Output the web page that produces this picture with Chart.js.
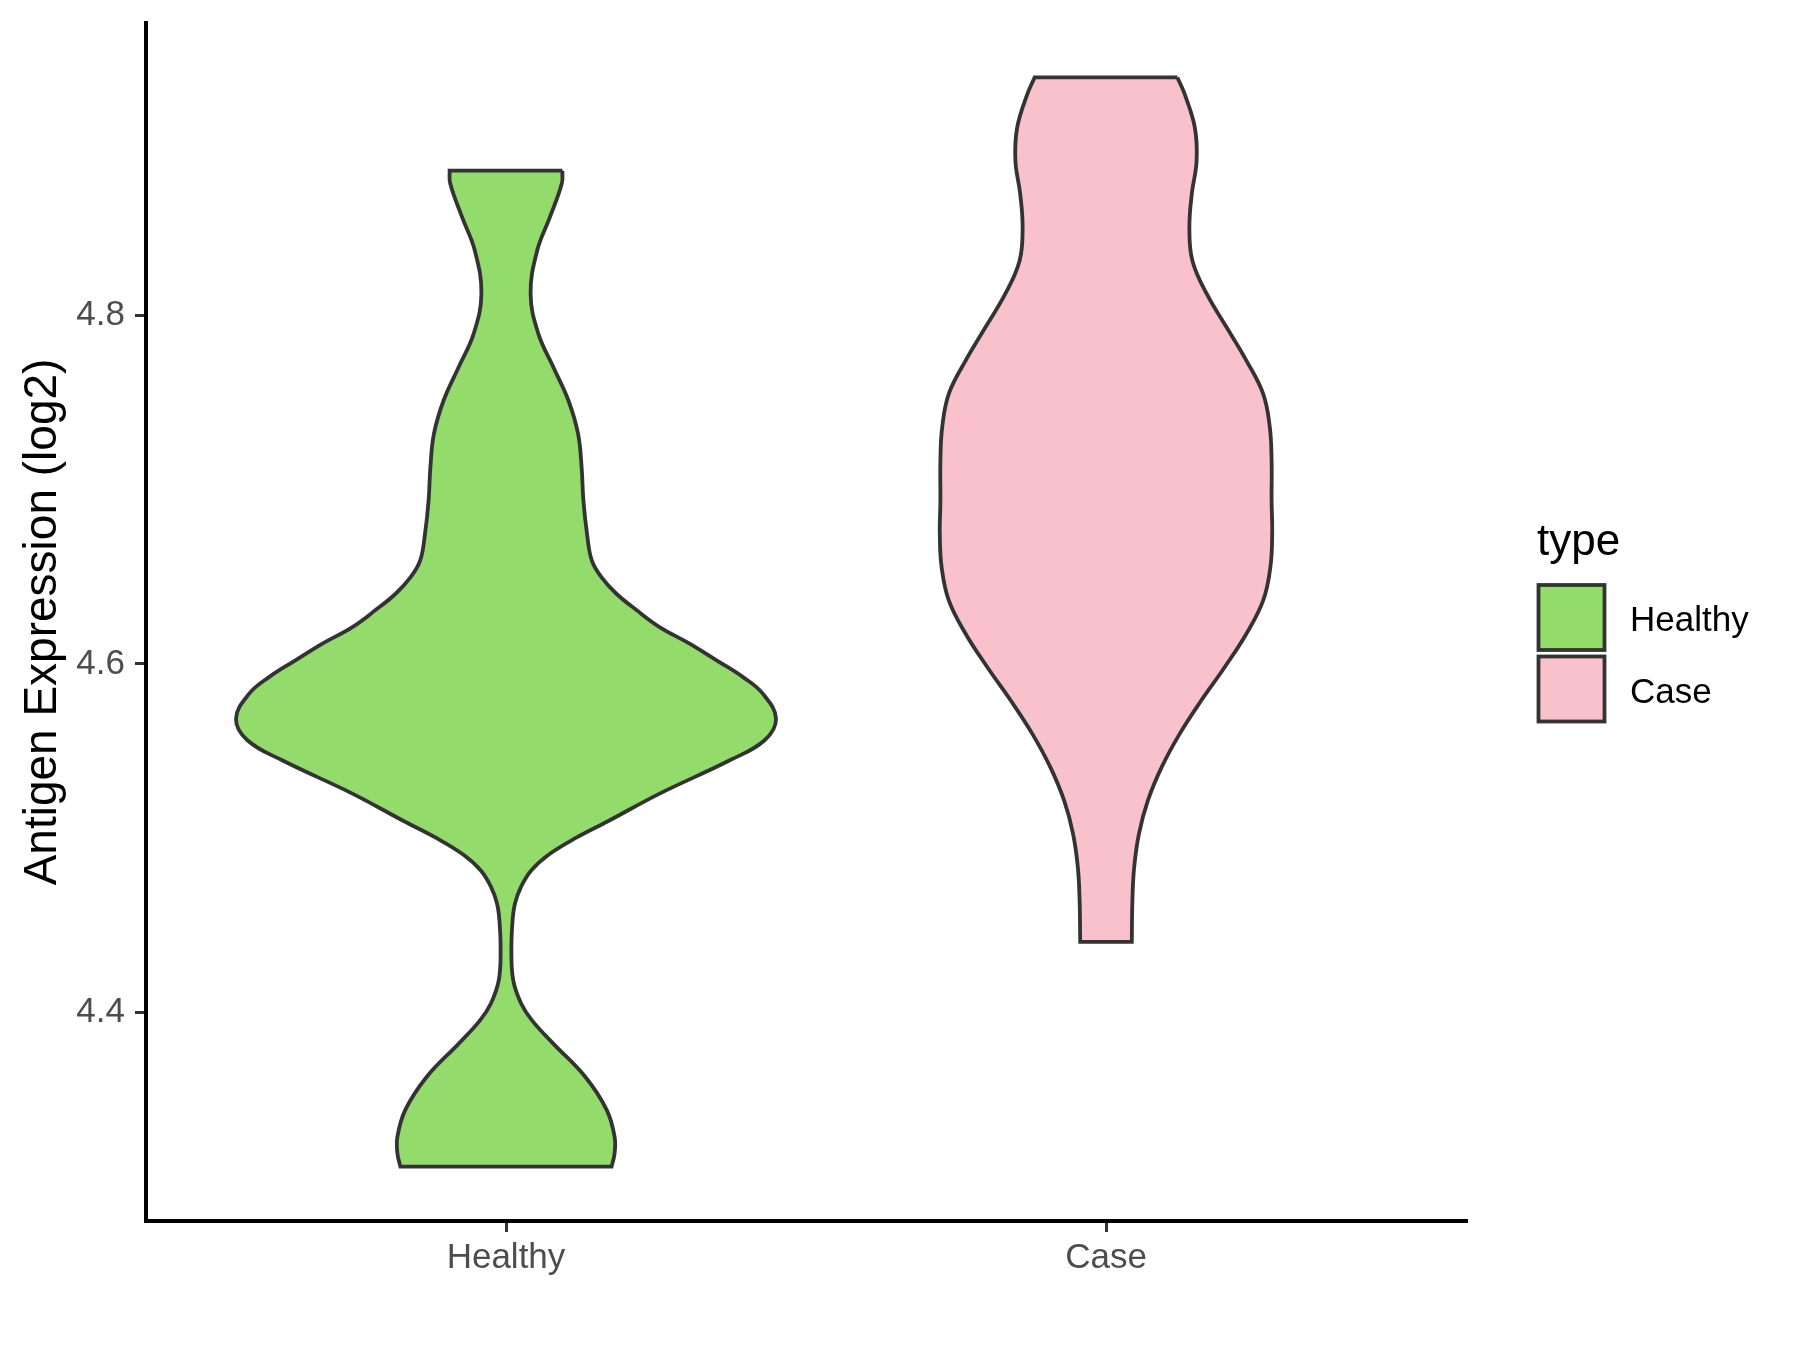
<!DOCTYPE html>
<html>
<head>
<meta charset="utf-8">
<script src="https://cdn.jsdelivr.net/npm/chart.js@4/dist/chart.umd.min.js"></script>
<style>
  body { margin: 0; background: #fff; }
  #violin { display: block; }
</style>
</head>
<body>
<canvas id="violin" width="1800" height="1350"></canvas>
<script>
'use strict';

const categories = ['Healthy', 'Case'];
const fills = ['#93DB6B', '#F8C1CC'];
const yTicks = [4.4, 4.6, 4.8];

// violin outlines: expression value and half width (in category units)
const healthyY = [4.8828, 4.8754, 4.8560, 4.8370, 4.8121, 4.7892, 4.7701, 4.7510, 4.7321, 4.7128, 4.6937, 4.6746,
  4.6593, 4.6497, 4.6402, 4.6307, 4.6211, 4.6116, 4.6020, 4.5924, 4.5829, 4.5686, 4.5562, 4.5447, 4.5256,
  4.5103, 4.5003, 4.4908, 4.4815, 4.4721, 4.4626, 4.4530, 4.4358, 4.4186, 4.4054, 4.3957, 4.3825, 4.3632,
  4.3441, 4.3288, 4.3193, 4.3117];
const healthyW = [0.094, 0.093, 0.073, 0.052, 0.041, 0.054, 0.079, 0.104, 0.120, 0.126, 0.129, 0.135,
  0.143, 0.159, 0.184, 0.218, 0.256, 0.306, 0.351, 0.395, 0.428, 0.450, 0.431, 0.373, 0.256,
  0.173, 0.117, 0.072, 0.042, 0.025, 0.015, 0.011, 0.009, 0.012, 0.025, 0.043, 0.078, 0.132,
  0.168, 0.181, 0.181, 0.176];

const caseY = [4.9363, 4.9268, 4.9076, 4.8885, 4.8695, 4.8503, 4.8312, 4.8121, 4.7930, 4.7739, 4.7548, 4.7357,
  4.7166, 4.6937, 4.6746, 4.6555, 4.6364, 4.6173, 4.5982, 4.5791, 4.5600, 4.5409, 4.5218, 4.5027, 4.4836,
  4.4645, 4.4406];
const caseW = [0.119, 0.131, 0.148, 0.151, 0.143, 0.139, 0.144, 0.168, 0.201, 0.234, 0.262, 0.273,
  0.276, 0.276, 0.277, 0.274, 0.262, 0.234, 0.198, 0.159, 0.123, 0.093, 0.070, 0.055, 0.047,
  0.044, 0.043];

// closed outline: right side top->bottom, left side bottom->top; corners doubled so they stay sharp
function outline(center, ys, ws) {
  let pts = [];
  let n = ys.length;
  pts.push({x: center + ws[0], y: ys[0]});
  for (let i = 0; i < n; i++) pts.push({x: center + ws[i], y: ys[i]});
  pts.push({x: center + ws[n - 1], y: ys[n - 1]});
  pts.push({x: center - ws[n - 1], y: ys[n - 1]});
  for (let i = n - 1; i >= 0; i--) pts.push({x: center - ws[i], y: ys[i]});
  pts.push({x: center - ws[0], y: ys[0]});
  pts.push({x: center + ws[0], y: ys[0]});
  return pts;
}

const FONT = '"Liberation Sans", Arial, sans-serif';

const legendPlugin = {
  id: 'typeLegend',
  afterDraw(chart) {
    const ctx = chart.ctx;
    ctx.save();
    ctx.fillStyle = '#000';
    ctx.font = '44px ' + FONT;
    ctx.textBaseline = 'alphabetic';
    ctx.fillText('type', 1537, 555);
    ctx.font = '35px ' + FONT;
    chart.data.datasets.forEach(function (ds, i) {
      let top = 585 + i * 71.5;
      ctx.fillStyle = ds.backgroundColor;
      ctx.fillRect(1538.5, top, 66, 65);
      ctx.strokeStyle = '#333333';
      ctx.lineWidth = 3.8;
      ctx.strokeRect(1538.5, top, 66, 65);
      ctx.fillStyle = '#000';
      ctx.fillText(ds.label, 1630, top + 46);
    });
    ctx.restore();
  }
};

function violinDataset(i, pts) {
  return {
    label: categories[i],
    data: pts,
    showLine: true,
    fill: 'shape',
    backgroundColor: fills[i],
    borderColor: '#333333',
    borderWidth: 3.8,
    tension: 0.4,
    pointRadius: 0
  };
}

const chartObject = {
  type: 'scatter',
  data: {
    datasets: [
      violinDataset(0, outline(1, healthyY, healthyW)),
      violinDataset(1, outline(2, caseY, caseW))
    ]
  },
  options: {
    responsive: false,
    animation: false,
    devicePixelRatio: 1,
    layout: { padding: { top: 23, right: 334, left: 0, bottom: 0 } },
    plugins: {
      legend: { display: false },
      tooltip: { enabled: false }
    },
    scales: {
      x: {
        type: 'linear',
        min: 0.4,
        max: 2.6,
        afterBuildTicks: function (scale) {
          scale.ticks = categories.map(function (c, i) { return {value: i + 1}; });
        },
        afterFit: function (scale) {
          scale.height = 129;
          scale.paddingLeft = 0;
          scale.paddingRight = 0;
        },
        ticks: {
          autoSkip: false,
          maxRotation: 0,
          padding: 5,
          color: '#4D4D4D',
          font: { family: FONT, size: 35 },
          callback: function (v) { return categories[Math.round(v) - 1]; }
        },
        grid: { drawOnChartArea: false, drawTicks: true, tickLength: 11, color: '#333333', lineWidth: 3 },
        border: { display: true, color: '#000', width: 4 }
      },
      y: {
        type: 'linear',
        min: 4.2805,
        max: 4.9675,
        afterBuildTicks: function (scale) {
          scale.ticks = yTicks.map(function (v) { return {value: v}; });
        },
        afterFit: function (scale) {
          scale.width = 146;
          scale.paddingTop = 0;
          scale.paddingBottom = 0;
        },
        ticks: {
          padding: 10,
          color: '#4D4D4D',
          font: { family: FONT, size: 35 },
          callback: function (v) { return v.toFixed(1); }
        },
        grid: { drawOnChartArea: false, drawTicks: true, tickLength: 11, color: '#333333', lineWidth: 3 },
        border: { display: true, color: '#000', width: 4 },
        title: {
          display: true,
          text: 'Antigen Expression (log2)',
          color: '#000',
          font: { family: FONT, size: 46 },
          padding: { top: 16, bottom: 0 }
        }
      }
    }
  },
  plugins: [legendPlugin]
};

let ctx = document.getElementById('violin').getContext('2d');
let myChart = new Chart(ctx, chartObject);
</script>
</body>
</html>
